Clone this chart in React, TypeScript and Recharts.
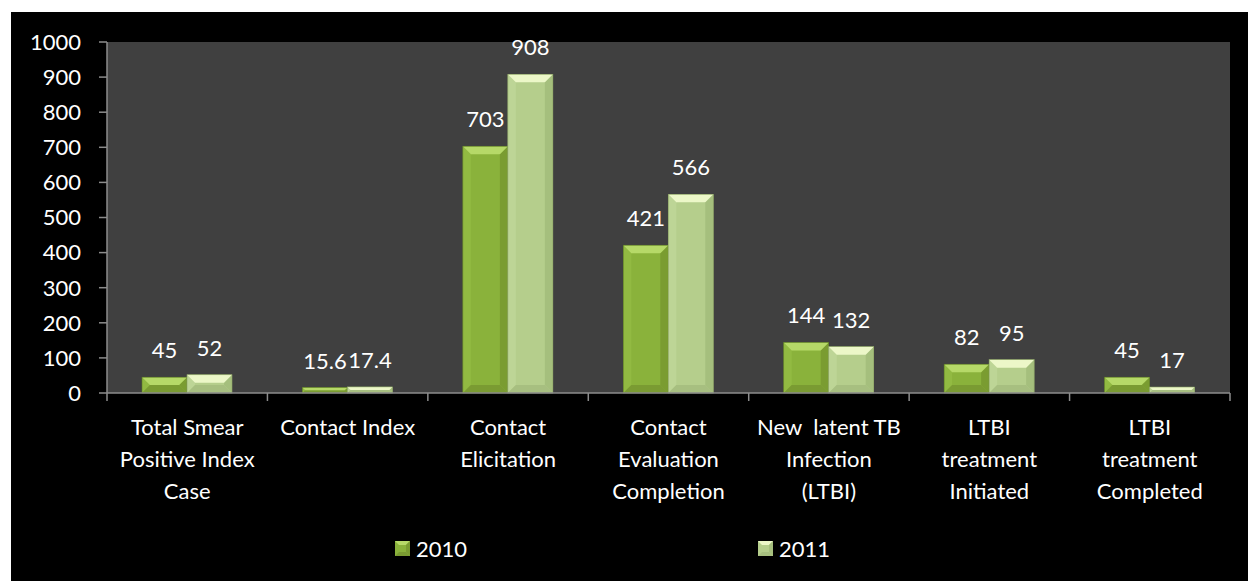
import { BarChart, Bar, XAxis, YAxis, CartesianGrid, Legend, LabelList } from 'recharts'

const categories = [
  'Total Smear\nPositive Index\nCase',
  'Contact Index',
  'Contact\nElicitation',
  'Contact\nEvaluation\nCompletion',
  'New  latent TB\nInfection\n(LTBI)',
  'LTBI\ntreatment\nInitiated',
  'LTBI\ntreatment\nCompleted',
]
const values2010 = [45, 15.6, 703, 421, 144, 82, 45]
const values2011 = [52, 17.4, 908, 566, 132, 95, 17]
const yTicks = [0, 100, 200, 300, 400, 500, 600, 700, 800, 900, 1000]

const data = categories.map((name, i) => ({
  name,
  y2010: values2010[i],
  y2011: values2011[i],
}))

const FONT = 'Lato, "Open Sans", sans-serif'

const palettes = {
  y2010: { main: '#8ab23b', top: '#b6d968', left: '#92ba42', right: '#7a9c31', bottom: '#7a9b32', edge: '#5f7d26' },
  y2011: { main: '#b5ce8c', top: '#ecf7c8', left: '#bdd596', right: '#a5bf7d', bottom: '#a7bf80', edge: '#8ea566' },
}

// bevelled bar, roughly like the Excel preset
function makeShape(key: 'y2010' | 'y2011') {
  const p = palettes[key]
  return (props: any) => {
    const { x, y, width, height } = props
    if (!height || height <= 0) return null
    const b = Math.min(8, height / 2)
    return (
      <g>
        <rect x={x} y={y} width={width} height={height} fill={p.main} />
        <polygon points={`${x},${y} ${x + b},${y + b} ${x + b},${y + height - b} ${x},${y + height}`} fill={p.left} />
        <polygon points={`${x + width},${y} ${x + width - b},${y + b} ${x + width - b},${y + height - b} ${x + width},${y + height}`} fill={p.right} />
        <polygon points={`${x},${y + height} ${x + b},${y + height - b} ${x + width - b},${y + height - b} ${x + width},${y + height}`} fill={p.bottom} />
        <polygon points={`${x},${y} ${x + width},${y} ${x + width - b},${y + b} ${x + b},${y + b}`} fill={p.top} />
        <rect x={x} y={y} width={width} height={height} fill="none" stroke={p.edge} strokeWidth={0.6} />
      </g>
    )
  }
}

function CategoryTick(props: any) {
  const { x, y, payload, index } = props
  const half = 1123 / 7 / 2
  const lines = String(payload.value).split('\n')
  return (
    <g>
      <line x1={x - half} y1={y} x2={x - half} y2={y + 8} stroke="#8c8c8c" strokeWidth={1.5} />
      {index === categories.length - 1 && (
        <line x1={x + half} y1={y} x2={x + half} y2={y + 8} stroke="#8c8c8c" strokeWidth={1.5} />
      )}
      <text x={x} y={y + 42} textAnchor="middle" fill="#ffffff" fontSize={22} fontFamily={FONT}>
        {lines.map((l, i) => (
          <tspan key={i} x={x} dy={i === 0 ? 0 : 32} style={{ whiteSpace: 'pre' }}>{l}</tspan>
        ))}
      </text>
    </g>
  )
}

function LegendSquare({ k }: { k: 'y2010' | 'y2011' }) {
  const p = palettes[k]
  return (
    <svg width={15} height={15} style={{ display: 'block' }}>
      <rect x={0} y={0} width={15} height={15} fill={p.main} />
      <polygon points="0,0 15,0 11,4 4,4" fill={p.top} />
      <polygon points="0,15 4,11 11,11 15,15" fill={p.bottom} />
      <polygon points="15,0 11,4 11,11 15,15" fill={p.right} />
    </svg>
  )
}

function LegendContent() {
  const items: { k: 'y2010' | 'y2011'; label: string; left: number }[] = [
    { k: 'y2010', label: '2010', left: 384 },
    { k: 'y2011', label: '2011', left: 747 },
  ]
  return (
    <div style={{ position: 'relative', height: 60, width: 1237 }}>
      {items.map(it => (
        <div
          key={it.k}
          style={{ position: 'absolute', left: it.left, top: 14, display: 'flex', alignItems: 'center', gap: 6, color: '#fff', fontFamily: FONT, fontSize: 22 }}
        >
          <LegendSquare k={it.k} />
          <span>{it.label}</span>
        </div>
      ))}
    </div>
  )
}

export default function App() {
  return (
    <div style={{ position: 'absolute', left: 11, top: 12, width: 1237, height: 569, background: '#000' }}>
      <BarChart
        width={1237}
        height={569}
        data={data}
        margin={{ top: 30, right: 18, left: 0, bottom: 0 }}
        barSize={45}
        barGap={0}
      >
        <CartesianGrid fill="#404040" horizontal={false} vertical={false} />
        <XAxis
          dataKey="name"
          height={128}
          interval={0}
          tick={<CategoryTick />}
          tickLine={false}
          tickSize={0}
          tickMargin={0}
          axisLine={{ stroke: '#8c8c8c', strokeWidth: 1.5 }}
        />
        <YAxis
          width={96}
          domain={[0, 1000]}
          ticks={yTicks}
          interval={0}
          tickSize={8}
          tickMargin={18}
          tick={{ fill: '#ffffff', fontSize: 22, fontFamily: FONT }}
          tickLine={{ stroke: '#8c8c8c', strokeWidth: 1.5 }}
          axisLine={{ stroke: '#8c8c8c', strokeWidth: 1.5 }}
        />
        <Legend verticalAlign="bottom" height={60} wrapperStyle={{ left: 0, width: 1237 }} content={<LegendContent />} />
        <Bar dataKey="y2010" name="2010" fill={palettes.y2010.main} shape={makeShape('y2010')} isAnimationActive={false}>
          <LabelList dataKey="y2010" position="top" offset={19} fill="#ffffff" fontSize={22} fontFamily={FONT} />
        </Bar>
        <Bar dataKey="y2011" name="2011" fill={palettes.y2011.main} shape={makeShape('y2011')} isAnimationActive={false}>
          <LabelList dataKey="y2011" position="top" offset={19} fill="#ffffff" fontSize={22} fontFamily={FONT} />
        </Bar>
      </BarChart>
    </div>
  )
}
